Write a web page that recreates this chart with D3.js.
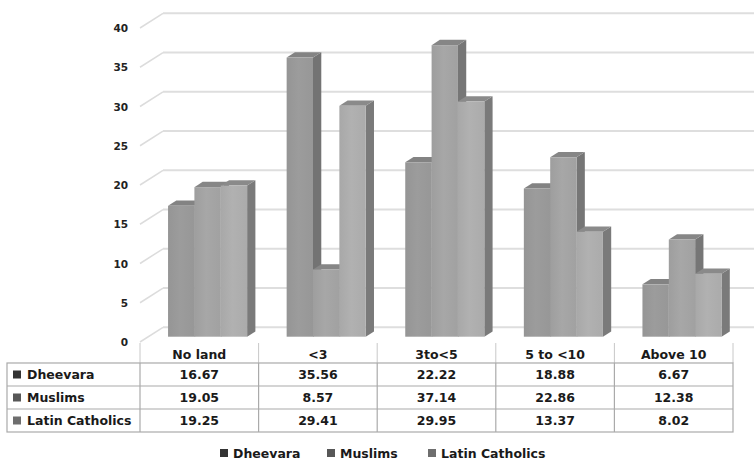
<!DOCTYPE html>
<html>
<head>
<meta charset="utf-8">
<script src="https://cdn.jsdelivr.net/npm/d3@7/dist/d3.min.js"></script>
<style>
  html, body { margin: 0; padding: 0; background: #fff; }
  svg { display: block; }
  text { font-family: "DejaVu Sans", Verdana, sans-serif; }
</style>
</head>
<body>
<svg id="chart" width="754" height="459"></svg>
<script>
// ---- data ----
const categories = ["No land", "<3", "3to<5", "5 to <10", "Above 10"];
const seriesNames = ["Dheevara", "Muslims", "Latin Catholics"];
const dheevara = [16.67, 35.56, 22.22, 18.88, 6.67];
const muslims = [19.05, 8.57, 37.14, 22.86, 12.38];
const latinCatholics = [19.25, 29.41, 29.95, 13.37, 8.02];
const yTicks = [0, 5, 10, 15, 20, 25, 30, 35, 40];
const seriesValues = [dheevara, muslims, latinCatholics];
const valueLabels = [
  ["16.67", "35.56", "22.22", "18.88", "6.67"],
  ["19.05", "8.57", "37.14", "22.86", "12.38"],
  ["19.25", "29.41", "29.95", "13.37", "8.02"]
];

// ---- styles ----
const frontCol = ["#999999", "#a3a3a3", "#adadad"];
const sideCol = ["#737373", "#767676", "#7a7a7a"];
const topCol = ["#838383", "#868686", "#8a8a8a"];
const markerCol = ["#333333", "#575757", "#6e6e6e"];

const svg = d3.select("#chart");
const W = 754;

// scales (front plane)
const x = d3.scaleBand().domain(categories).range([140, 733]).paddingInner(0).paddingOuter(0);
const xs = d3.scaleBand().domain(seriesNames).range([0, x.bandwidth()]).paddingInner(0).paddingOuter(0.75);
const y = d3.scaleLinear().domain([0, 40]).range([342, 28]);

// oblique depth projection
const DX = 23, DY = 14.7;
const P = (px, v, d) => [px + d * DX, y(v) - d * DY];
const D0 = 0.36, D1 = 0.72;

// gradients for bar fronts
const defs = svg.append("defs");
seriesNames.forEach((s, j) => {
  const c = d3.color(frontCol[j]);
  const g = defs.append("linearGradient").attr("id", "g" + j)
    .attr("x1", "0").attr("x2", "1").attr("y1", "0").attr("y2", "0");
  g.append("stop").attr("offset", "0%").attr("stop-color", c.darker(0.08));
  g.append("stop").attr("offset", "45%").attr("stop-color", c.brighter(0.06));
  g.append("stop").attr("offset", "100%").attr("stop-color", c.darker(0.04));
});

// walls / gridlines
const grid = svg.append("g");
yTicks.forEach(v => {
  const a = P(x.range()[0], v, 0), b = P(x.range()[0], v, 1);
  grid.append("line").attr("x1", a[0]).attr("y1", a[1]).attr("x2", b[0]).attr("y2", b[1])
    .attr("stroke", "#dcdcdc").attr("stroke-width", 1.5);
  grid.append("line").attr("x1", b[0]).attr("y1", b[1]).attr("x2", W).attr("y2", b[1])
    .attr("stroke", "#dedede").attr("stroke-width", 2);
});

// y tick labels
svg.append("g").selectAll("text").data(yTicks).join("text")
  .attr("x", 128).attr("y", d => y(d) + 4)
  .attr("text-anchor", "end").attr("font-size", 10.5).attr("font-weight", "bold").attr("fill", "#222")
  .text(d => d);

// bars
const bars = svg.append("g");
categories.forEach((cat, i) => {
  seriesNames.forEach((s, j) => {
    const v = seriesValues[j][i];
    const x0 = x(cat) + xs(s), x1 = x0 + xs.bandwidth();
    const poly = pts => pts.map(p => p.join(",")).join(" ");
    bars.append("polygon").attr("points", poly([P(x1, 0, D0), P(x1, v, D0), P(x1, v, D1), P(x1, 0, D1)]))
      .attr("fill", sideCol[j]);
    bars.append("polygon").attr("points", poly([P(x0, v, D0), P(x1, v, D0), P(x1, v, D1), P(x0, v, D1)]))
      .attr("fill", topCol[j]);
    const f0 = P(x0, v, D0), f1 = P(x1, 0, D0);
    bars.append("rect").attr("x", f0[0]).attr("y", f0[1])
      .attr("width", f1[0] - f0[0]).attr("height", f1[1] - f0[1])
      .attr("fill", "url(#g" + j + ")");
  });
});

// data table
const tbl = svg.append("g");
const tLeft = 7, tRight = 733, headTop = 343, bodyTop = 363, rowH = 23;
const colEdges = categories.map(c => x(c)).concat([x.range()[1]]);
colEdges.forEach(cx => {
  tbl.append("line").attr("x1", cx).attr("x2", cx).attr("y1", headTop).attr("y2", bodyTop)
    .attr("stroke", "#c8c8c8").attr("stroke-width", 1);
});
categories.forEach(c => {
  tbl.append("text").attr("x", x(c) + x.bandwidth() / 2).attr("y", headTop + 16)
    .attr("text-anchor", "middle").attr("font-size", 12.5).attr("font-weight", "bold").attr("fill", "#1a1a1a")
    .text(c);
});
// body grid
tbl.append("rect").attr("x", tLeft).attr("y", bodyTop).attr("width", tRight - tLeft).attr("height", rowH * 3)
  .attr("fill", "none").attr("stroke", "#aaaaaa").attr("stroke-width", 1.2);
[1, 2].forEach(r => {
  tbl.append("line").attr("x1", tLeft).attr("x2", tRight).attr("y1", bodyTop + r * rowH).attr("y2", bodyTop + r * rowH)
    .attr("stroke", "#aaaaaa").attr("stroke-width", 1.2);
});
colEdges.slice(0, -1).forEach(cx => {
  tbl.append("line").attr("x1", cx).attr("x2", cx).attr("y1", bodyTop).attr("y2", bodyTop + rowH * 3)
    .attr("stroke", "#aaaaaa").attr("stroke-width", 1.2);
});
seriesNames.forEach((s, j) => {
  const cy = bodyTop + j * rowH + rowH / 2;
  tbl.append("rect").attr("x", 13).attr("y", cy - 4).attr("width", 8).attr("height", 8).attr("fill", markerCol[j]);
  tbl.append("text").attr("x", 27).attr("y", cy + 4.5).attr("font-size", 12.5).attr("font-weight", "bold")
    .attr("fill", "#1a1a1a").text(s);
  categories.forEach((c, i) => {
    tbl.append("text").attr("x", x(c) + x.bandwidth() / 2).attr("y", cy + 4.5)
      .attr("text-anchor", "middle").attr("font-size", 12.5).attr("font-weight", "bold").attr("fill", "#1a1a1a")
      .text(valueLabels[j][i]);
  });
});

// legend
const leg = svg.append("g");
const legX = [220, 327, 428];
seriesNames.forEach((s, j) => {
  leg.append("rect").attr("x", legX[j]).attr("y", 449).attr("width", 8).attr("height", 8).attr("fill", markerCol[j]);
  leg.append("text").attr("x", legX[j] + 13).attr("y", 457.5).attr("font-size", 12.5).attr("font-weight", "bold")
    .attr("fill", "#1a1a1a").text(s);
});
</script>
</body>
</html>
